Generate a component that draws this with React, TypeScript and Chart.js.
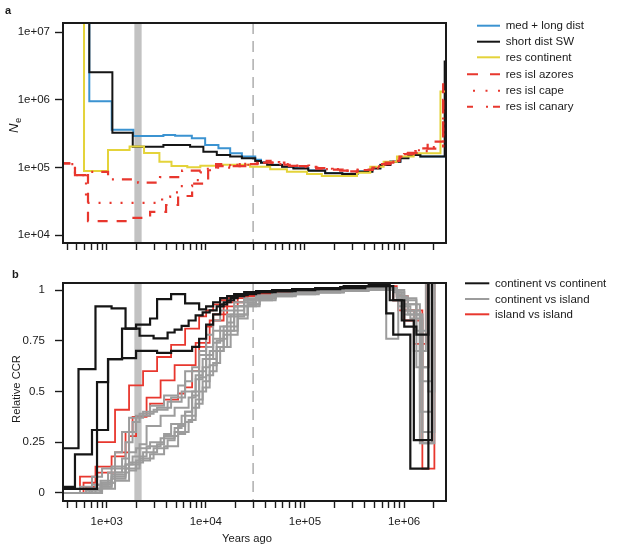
import { useEffect, useRef } from 'react';
import { Chart, registerables } from 'chart.js';

Chart.register(...registerables);

const FONT = '"Liberation Sans", Arial, Helvetica, sans-serif';
const INK = '#1a1a1a';
const BLUE = '#3b93d1';
const YELLOW = '#e4d33a';
const RED = '#e8372e';
const GREY_LINE = '#9c9c9c';
const BLACK = '#151515';

Chart.defaults.font.family = FONT;

// shared x axis: years ago (log)
const yearsMin = 362;
const yearsMax = 2.65e6;
const yearTicks = [
  400, 500, 600, 700, 800, 900, 1000, 2000, 3000, 4000, 5000, 6000, 7000, 8000, 9000,
  10000, 20000, 30000, 40000, 50000, 60000, 70000, 80000, 90000, 100000, 200000, 300000,
  400000, 500000, 600000, 700000, 800000, 900000, 1000000, 2000000,
];
const yearLabelAt = [1e3, 1e4, 1e5, 1e6];
const yearLabels = ['1e+03', '1e+04', '1e+05', '1e+06'];
const bandFrom = 1900;
const bandTo = 2250;
const dashedYear = 30000;

// panel a: effective population size
const neMin = 7690;
const neMax = 1.36e7;
const neTicks = [1e4, 1e5, 1e6, 1e7];
const neLabels = ['1e+04', '1e+05', '1e+06', '1e+07'];

const medLongTimes = [600, 667, 1123, 1857, 3730, 4900, 7220, 9840, 13400, 17600, 23100, 31500, 36000, 41600, 58800, 76500, 108000, 160000, 238000, 338000, 479000, 577000, 727000, 918000, 1106000, 1460000, 2620000, 3000000];
const medLongNe = [3e7, 9.5e5, 3.6e5, 2.93e5, 3.03e5, 2.95e5, 2.7e5, 2.15e5, 1.92e5, 1.62e5, 1.45e5, 1.3e5, 1.2e5, 1.1e5, 1.04e5, 9.8e4, 9.1e4, 8.3e4, 8.1e4, 8.8e4, 9.8e4, 1.1e5, 1.23e5, 1.38e5, 1.54e5, 1.46e5, 3.5e6, 3.5e6];

const shortSwTimes = [600, 667, 1140, 1830, 3730, 6940, 9440, 12900, 17600, 23100, 31500, 36000, 41600, 58800, 76500, 108000, 160000, 238000, 338000, 479000, 577000, 727000, 918000, 1106000, 1460000, 2570000, 3000000];
const shortSwNe = [3e7, 2.56e6, 3.27e5, 2.03e5, 2.15e5, 2.03e5, 1.71e5, 1.53e5, 1.45e5, 1.37e5, 1.25e5, 1.18e5, 1.09e5, 1.03e5, 9.7e4, 9.0e4, 8.2e4, 8.0e4, 8.7e4, 9.7e4, 1.09e5, 1.22e5, 1.37e5, 1.53e5, 1.45e5, 3.67e6, 3.67e6];

const resContTimes = [560, 590, 1030, 1700, 2380, 3400, 4500, 6500, 8800, 12900, 28000, 44600, 65800, 105000, 148000, 335000, 456000, 622000, 848000, 1250000, 2330000, 3000000];
const resContNe = [3e7, 8.87e4, 1.81e5, 2.05e5, 1.64e5, 1.22e5, 1.05e5, 1.01e5, 1.06e5, 1.1e5, 1.03e5, 9.4e4, 8.67e4, 8.0e4, 7.48e4, 8.4e4, 1.03e5, 1.22e5, 1.45e5, 1.62e5, 1.32e6, 1.32e6];

const azoresTimes = [340, 478, 647, 1800, 2740, 3970, 5250, 7270, 10550, 12700, 22000, 33000, 45000, 62000, 85000, 120000, 170000, 240000, 340000, 480000, 600000, 730000, 900000, 1100000, 1460000, 1730000, 2480000, 3000000];
const azoresNe = [1.15e5, 7.7e4, 1.62e4, 1.81e4, 2.22e4, 2.8e4, 3.8e4, 5.8e4, 9.0e4, 1.05e5, 1.12e5, 1.25e5, 1.18e5, 1.1e5, 1.05e5, 9.8e4, 9.3e4, 8.8e4, 9.3e4, 1.0e5, 1.12e5, 1.25e5, 1.45e5, 1.65e5, 1.92e5, 2.41e5, 1.76e6, 1.76e6];

const capeTimes = [340, 478, 618, 3620, 4360, 5500, 7270, 8750, 11000, 20000, 30000, 40000, 55000, 80000, 110000, 160000, 230000, 330000, 470000, 580000, 720000, 880000, 1050000, 1300000, 1900000, 2480000, 3000000];
const capeNe = [1.12e5, 7.7e4, 3.0e4, 3.7e4, 4.3e4, 5.3e4, 6.5e4, 8.5e4, 1.0e5, 1.1e5, 1.15e5, 1.2e5, 1.12e5, 1.07e5, 1.0e5, 9.5e4, 9.0e4, 9.2e4, 9.8e4, 1.1e5, 1.22e5, 1.4e5, 1.6e5, 1.75e5, 2.0e5, 1.2e6, 1.2e6];

const canaryTimes = [340, 478, 618, 1031, 2070, 3450, 5760, 9390, 12700, 17600, 25000, 35000, 48000, 66000, 92000, 130000, 190000, 270000, 380000, 520000, 650000, 800000, 1000000, 1250000, 1600000, 2480000, 3000000];
const canaryNe = [1.15e5, 7.7e4, 8.6e4, 6.7e4, 6.0e4, 7.2e4, 9.0e4, 9.6e4, 1.12e5, 1.05e5, 1.13e5, 1.18e5, 1.12e5, 1.06e5, 1.02e5, 9.6e4, 9.0e4, 8.6e4, 9.2e4, 1.04e5, 1.18e5, 1.35e5, 1.58e5, 1.8e5, 1.9e5, 1.0e6, 1.0e6];

// panel b: relative cross-coalescence rate, two time grids
const ccrMin = -0.04;
const ccrMax = 1.035;
const ccrTicks = [0, 0.25, 0.5, 0.75, 1];
const ccrLabels = ['0', '0.25', '0.5', '0.75', '1'];

const gridA = [212, 478, 537, 618, 710, 798, 897, 1031, 1213, 1427, 1680, 1977, 2326, 2737, 3222, 3791, 4462, 5251, 6180, 7272, 8558, 10070, 11850, 13940, 16410, 19310, 24370, 32140, 46640, 74250, 126800, 226700, 405600, 661000, 778000, 874000, 1005000, 1157000, 1331000, 1530000, 1760000, 2023000, 3710000];
const gridB = [230, 519, 583, 671, 770, 866, 973, 1119, 1316, 1548, 1823, 2145, 2524, 2970, 3496, 4113, 4841, 5697, 6705, 7890, 9285, 10930, 12860, 15120, 17800, 20950, 26440, 34870, 50600, 80560, 137600, 246000, 440100, 717200, 844100, 948300, 1090000, 1255000, 1444000, 1660000, 1910000, 2195000, 4030000];

const contCont1 = [0.22, 0.61, 0.61, 0.61, 0.92, 0.92, 0.92, 0.91, 0.91, 0.81, 0.81, 0.775, 0.775, 0.762, 0.762, 0.791, 0.805, 0.824, 0.85, 0.875, 0.89, 0.9, 0.92, 0.94, 0.96, 0.975, 0.985, 0.99, 0.995, 1.005, 1.01, 1.02, 1.025, 0.95, 0.95, 0.85, 0.85, 0.26, 0.26, 0.26, 1.2, 1.2, 1.2];
const contCont2 = [0.03, 0.19, 0.19, 0.19, 0.31, 0.31, 0.31, 0.66, 0.66, 0.81, 0.81, 0.83, 0.83, 0.86, 0.955, 0.955, 0.98, 0.98, 0.935, 0.935, 0.905, 0.92, 0.94, 0.96, 0.97, 0.98, 0.99, 0.995, 1.0, 1.005, 1.01, 1.015, 1.02, 0.885, 0.78, 0.78, 0.78, 0.12, 0.12, 0.12, 1.2, 1.2, 1.2];
const contCont3 = [0.02, 0.02, 0.02, 0.02, 0.02, 0.546, 0.546, 0.66, 0.66, 0.665, 0.665, 0.7, 0.7, 0.7, 0.69, 0.69, 0.7, 0.7, 0.7, 0.72, 0.76, 0.83, 0.88, 0.93, 0.95, 0.97, 0.98, 0.99, 0.995, 1.0, 1.005, 1.01, 1.02, 1.02, 0.95, 0.95, 0.82, 0.82, 0.78, 0.78, 1.2, 1.2, 1.2];

const contIsl1 = [0, 0, 0.03, 0.03, 0.08, 0.08, 0.12, 0.12, 0.2, 0.3, 0.37, 0.37, 0.4, 0.4, 0.42, 0.42, 0.47, 0.47, 0.55, 0.62, 0.7, 0.78, 0.85, 0.9, 0.9, 0.94, 0.96, 0.975, 0.985, 0.99, 1.0, 1.005, 1.01, 0.76, 0.76, 0.95, 0.95, 0.95, 0.62, 0.62, 1.2, 1.2, 1.2];
const contIsl2 = [0, 0, 0, 0.02, 0.02, 0.06, 0.06, 0.13, 0.13, 0.25, 0.35, 0.39, 0.39, 0.41, 0.41, 0.45, 0.45, 0.5, 0.5, 0.58, 0.66, 0.66, 0.75, 0.82, 0.88, 0.92, 0.95, 0.97, 0.98, 0.99, 0.995, 1.0, 1.005, 1.01, 0.97, 0.97, 0.88, 0.88, 0.4, 0.4, 1.2, 1.2, 1.2];
const contIsl3 = [0, 0, 0, 0, 0.04, 0.04, 0.04, 0.1, 0.1, 0.17, 0.3, 0.38, 0.38, 0.43, 0.43, 0.48, 0.48, 0.53, 0.6, 0.6, 0.68, 0.72, 0.8, 0.8, 0.87, 0.92, 0.95, 0.965, 0.98, 0.99, 0.995, 1.0, 1.01, 1.015, 1.0, 0.92, 0.92, 0.86, 0.86, 0.245, 0.245, 1.2, 1.2];
const contIsl4 = [0, 0, 0, 0, 0, 0.03, 0.03, 0.07, 0.07, 0.14, 0.14, 0.24, 0.33, 0.33, 0.38, 0.38, 0.42, 0.42, 0.47, 0.56, 0.62, 0.7, 0.7, 0.8, 0.8, 0.88, 0.93, 0.96, 0.975, 0.985, 0.99, 1.0, 1.005, 1.01, 0.96, 0.96, 0.9, 0.7, 0.7, 1.2, 1.2, 1.2, 1.2];
const contIsl5 = [0, 0, 0, 0, 0.02, 0.02, 0.05, 0.05, 0.1, 0.1, 0.15, 0.15, 0.2, 0.2, 0.24, 0.28, 0.28, 0.33, 0.4, 0.48, 0.57, 0.66, 0.74, 0.82, 0.88, 0.92, 0.95, 0.965, 0.975, 0.985, 0.99, 1.0, 1.005, 1.01, 1.0, 1.0, 0.93, 0.93, 0.88, 0.3, 0.3, 1.2, 1.2];
const contIsl6 = [0, 0, 0, 0, 0, 0.03, 0.03, 0.08, 0.08, 0.12, 0.12, 0.17, 0.17, 0.22, 0.22, 0.26, 0.3, 0.3, 0.36, 0.44, 0.52, 0.6, 0.7, 0.78, 0.78, 0.86, 0.92, 0.95, 0.97, 0.98, 0.99, 0.995, 1.0, 1.005, 0.98, 0.9, 0.9, 0.9, 0.55, 0.55, 1.2, 1.2, 1.2];
const contIsl7 = [0, 0, 0, 0, 0, 0, 0.02, 0.02, 0.06, 0.06, 0.11, 0.16, 0.16, 0.19, 0.19, 0.23, 0.23, 0.29, 0.35, 0.42, 0.5, 0.58, 0.64, 0.72, 0.8, 0.87, 0.92, 0.95, 0.97, 0.98, 0.99, 0.995, 1.0, 1.0, 0.99, 0.99, 0.96, 0.96, 0.8, 0.8, 0.5, 1.2, 1.2];
const contIsl8 = [0, 0, 0, 0, 0.04, 0.04, 0.04, 0.09, 0.09, 0.14, 0.18, 0.18, 0.23, 0.23, 0.27, 0.27, 0.32, 0.38, 0.38, 0.46, 0.55, 0.63, 0.72, 0.72, 0.82, 0.88, 0.93, 0.96, 0.975, 0.985, 0.99, 1.0, 1.0, 1.005, 0.99, 0.93, 0.93, 0.93, 0.245, 0.245, 1.2, 1.2, 1.2];
const contIsl9 = [0, 0, 0, 0.01, 0.01, 0.01, 0.05, 0.05, 0.12, 0.12, 0.2, 0.22, 0.22, 0.25, 0.25, 0.29, 0.34, 0.34, 0.4, 0.5, 0.6, 0.68, 0.76, 0.76, 0.84, 0.9, 0.94, 0.96, 0.975, 0.985, 0.99, 0.995, 1.0, 1.0, 1.0, 0.95, 0.88, 0.88, 0.88, 0.62, 1.2, 1.2, 1.2];

const islIsl1 = [0, 0, 0.08, 0.08, 0.08, 0.25, 0.25, 0.25, 0.41, 0.41, 0.53, 0.53, 0.6, 0.6, 0.67, 0.67, 0.73, 0.73, 0.81, 0.81, 0.87, 0.9, 0.93, 0.95, 0.96, 0.97, 0.98, 0.985, 0.99, 0.995, 1.0, 1.01, 1.02, 1.02, 1.0, 0.9, 0.9, 0.9, 0.9, 0.12, 0.12, 1.2, 1.2];
const islIsl2 = [0, 0, 0.05, 0.05, 0.13, 0.13, 0.13, 0.18, 0.18, 0.3, 0.375, 0.375, 0.47, 0.47, 0.555, 0.555, 0.63, 0.63, 0.63, 0.74, 0.74, 0.85, 0.85, 0.92, 0.92, 0.96, 0.975, 0.985, 0.99, 0.995, 1.0, 1.01, 1.015, 1.02, 0.97, 0.97, 0.9, 0.735, 0.735, 1.2, 1.2, 1.2, 1.2];
const islIsl3 = [0, 0, 0, 0.03, 0.03, 0.1, 0.1, 0.1, 0.2, 0.2, 0.28, 0.38, 0.38, 0.44, 0.44, 0.46, 0.46, 0.49, 0.52, 0.6, 0.72, 0.82, 0.88, 0.88, 0.94, 0.94, 0.97, 0.98, 0.985, 0.99, 1.0, 1.005, 1.01, 1.01, 0.95, 0.95, 0.85, 0.85, 0.85, 0.62, 1.2, 1.2, 1.2];

const steps = (times: number[], values: number[]) => times.map((x, i) => ({ x, y: values[i] }));

// each value holds from its own time up to the next time
const stepLine = (label: string, times: number[], values: number[], color: string, width: number, dash: number[] = []) => ({
  label,
  data: steps(times, values),
  borderColor: color,
  borderWidth: width,
  borderDash: dash,
  stepped: 'before',
  pointRadius: 0,
  fill: false,
  tension: 0,
});

type LegendRow = { label: string; color: string; dash: number[]; from: number; to: number; y: number };

function drawLegend(ctx: CanvasRenderingContext2D, rows: LegendRow[], textX: number) {
  ctx.save();
  rows.forEach((r) => {
    ctx.strokeStyle = r.color;
    ctx.lineWidth = 2;
    ctx.setLineDash(r.dash);
    ctx.beginPath();
    ctx.moveTo(r.from, r.y);
    ctx.lineTo(r.to, r.y);
    ctx.stroke();
    ctx.setLineDash([]);
    ctx.fillStyle = INK;
    ctx.font = `11.5px ${FONT}`;
    ctx.textAlign = 'left';
    ctx.textBaseline = 'middle';
    ctx.fillText(r.label, textX, r.y + 0.5);
  });
  ctx.restore();
}

function decorPlugin(afterDrawExtra: (ctx: CanvasRenderingContext2D) => void) {
  return {
    id: 'panelDecor',
    beforeDatasetsDraw(chart: any) {
      const { ctx, chartArea: a } = chart;
      const x = chart.scales.x;
      ctx.save();
      ctx.beginPath();
      ctx.rect(a.left, a.top, a.right - a.left, a.bottom - a.top);
      ctx.clip();
      const b0 = x.getPixelForValue(bandFrom);
      const b1 = x.getPixelForValue(bandTo);
      ctx.fillStyle = '#c2c2c2';
      ctx.fillRect(b0, a.top, b1 - b0, a.bottom - a.top);
      const d = x.getPixelForValue(dashedYear);
      ctx.strokeStyle = '#b3b3b3';
      ctx.lineWidth = 1.6;
      ctx.setLineDash([11, 7]);
      ctx.beginPath();
      ctx.moveTo(d, a.top);
      ctx.lineTo(d, a.bottom);
      ctx.stroke();
      ctx.restore();
    },
    afterDraw(chart: any) {
      const { ctx, chartArea: a } = chart;
      ctx.save();
      ctx.strokeStyle = INK;
      ctx.lineWidth = 2;
      ctx.strokeRect(a.left, a.top, a.right - a.left, a.bottom - a.top);
      ctx.restore();
      afterDrawExtra(ctx);
    },
  };
}

const tickFont = { size: 11.5, family: FONT };
const tickGrid = (len: number) => ({
  display: true,
  drawOnChartArea: false,
  drawTicks: true,
  tickLength: len,
  tickColor: INK,
  tickWidth: 1.4,
});

const yearAxis = (height: number, labelled: boolean) => ({
  type: 'logarithmic',
  min: yearsMin,
  max: yearsMax,
  bounds: 'data',
  afterBuildTicks: (s: any) => {
    s.ticks = yearTicks.map((value) => ({ value }));
  },
  afterFit: (s: any) => {
    s.height = height;
  },
  grid: tickGrid(7),
  border: { display: false },
  ticks: {
    autoSkip: false,
    maxRotation: 0,
    minRotation: 0,
    padding: 7,
    color: INK,
    font: tickFont,
    callback: (v: any) => {
      if (!labelled) return '';
      const i = yearLabelAt.indexOf(Number(v));
      return i >= 0 ? yearLabels[i] : '';
    },
  },
});

const baseOptions = (top: number) => ({
  animation: false,
  responsive: true,
  maintainAspectRatio: false,
  events: [],
  layout: { padding: { top, right: 171, bottom: 0, left: 0 } },
  plugins: { legend: { display: false }, tooltip: { enabled: false } },
});

const neLegend: LegendRow[] = [
  { label: 'med + long dist', color: BLUE, dash: [], from: 477, to: 500, y: 25.7 },
  { label: 'short dist SW', color: BLACK, dash: [], from: 477, to: 500, y: 41.7 },
  { label: 'res continent', color: YELLOW, dash: [], from: 477, to: 500, y: 57.3 },
  { label: 'res isl azores', color: RED, dash: [11, 12], from: 467, to: 500, y: 74.3 },
  { label: 'res isl cape', color: RED, dash: [2, 10.5], from: 473, to: 500, y: 90.7 },
  { label: 'res isl canary', color: RED, dash: [6, 13, 2, 5, 7, 100], from: 467, to: 500, y: 106.7 },
];

function buildNeChart() {
  return {
    type: 'line',
    data: {
      datasets: [
        stepLine('res isl canary', canaryTimes, canaryNe, RED, 2.2, [10, 8, 2, 8]),
        stepLine('res isl cape', capeTimes, capeNe, RED, 2.2, [2, 9]),
        stepLine('res isl azores', azoresTimes, azoresNe, RED, 2.2, [10, 9]),
        stepLine('res continent', resContTimes, resContNe, YELLOW, 2),
        stepLine('short dist SW', shortSwTimes, shortSwNe, BLACK, 2),
        stepLine('med + long dist', medLongTimes, medLongNe, BLUE, 2),
      ],
    },
    options: {
      ...baseOptions(23),
      scales: {
        x: yearAxis(19, false),
        y: {
          type: 'logarithmic',
          min: neMin,
          max: neMax,
          bounds: 'data',
          afterBuildTicks: (s: any) => {
            s.ticks = neTicks.map((value) => ({ value }));
          },
          afterFit: (s: any) => {
            s.width = 63;
          },
          grid: tickGrid(8),
          border: { display: false },
          ticks: {
            autoSkip: false,
            padding: 5,
            color: INK,
            font: tickFont,
            callback: (v: any) => {
              const i = neTicks.indexOf(Number(v));
              return i >= 0 ? neLabels[i] : '';
            },
          },
        },
      },
    },
    plugins: [
      decorPlugin((ctx) => {
        drawLegend(ctx, neLegend, 505.7);
        ctx.save();
        ctx.fillStyle = INK;
        ctx.font = `bold 11px ${FONT}`;
        ctx.textBaseline = 'alphabetic';
        ctx.fillText('a', 5, 14);
        ctx.translate(17.5, 133);
        ctx.rotate(-Math.PI / 2);
        ctx.font = `italic 13px ${FONT}`;
        ctx.fillText('N', 0, 0);
        const w = ctx.measureText('N').width;
        ctx.font = `9.5px ${FONT}`;
        ctx.fillText('e', w + 0.5, 3);
        ctx.restore();
      }),
    ],
  };
}

const ccrLegend: LegendRow[] = [
  { label: 'continent vs continent', color: BLACK, dash: [], from: 465, to: 489.3, y: 21.3 },
  { label: 'continent vs island', color: GREY_LINE, dash: [], from: 465, to: 489.3, y: 37 },
  { label: 'island vs island', color: RED, dash: [], from: 465, to: 489.3, y: 52.3 },
];

function buildCcrChart() {
  return {
    type: 'line',
    data: {
      datasets: [
        stepLine('continent vs continent', gridB, contCont1, BLACK, 2.2),
        stepLine('continent vs continent', gridA, contCont2, BLACK, 2.2),
        stepLine('continent vs continent', gridA, contCont3, BLACK, 2.2),
        stepLine('continent vs island', gridA, contIsl1, GREY_LINE, 2),
        stepLine('continent vs island', gridB, contIsl2, GREY_LINE, 2),
        stepLine('continent vs island', gridA, contIsl3, GREY_LINE, 2),
        stepLine('continent vs island', gridB, contIsl4, GREY_LINE, 2),
        stepLine('continent vs island', gridA, contIsl5, GREY_LINE, 2),
        stepLine('continent vs island', gridB, contIsl6, GREY_LINE, 2),
        stepLine('continent vs island', gridA, contIsl7, GREY_LINE, 2),
        stepLine('continent vs island', gridB, contIsl8, GREY_LINE, 2),
        stepLine('continent vs island', gridA, contIsl9, GREY_LINE, 2),
        stepLine('island vs island', gridA, islIsl1, RED, 1.8),
        stepLine('island vs island', gridB, islIsl2, RED, 1.8),
        stepLine('island vs island', gridA, islIsl3, RED, 1.8),
      ],
    },
    options: {
      ...baseOptions(21),
      scales: {
        x: yearAxis(51, true),
        y: {
          type: 'linear',
          min: ccrMin,
          max: ccrMax,
          afterBuildTicks: (s: any) => {
            s.ticks = ccrTicks.map((value) => ({ value }));
          },
          afterFit: (s: any) => {
            s.width = 63;
          },
          grid: tickGrid(8),
          border: { display: false },
          ticks: {
            autoSkip: false,
            padding: 10,
            color: INK,
            font: tickFont,
            callback: (v: any) => {
              const i = ccrTicks.indexOf(Number(v));
              return i >= 0 ? ccrLabels[i] : '';
            },
          },
        },
      },
    },
    plugins: [
      decorPlugin((ctx) => {
        drawLegend(ctx, ccrLegend, 495);
        ctx.save();
        ctx.fillStyle = INK;
        ctx.font = `bold 11px ${FONT}`;
        ctx.textBaseline = 'alphabetic';
        ctx.fillText('b', 12, 16.3);
        ctx.font = `11.2px ${FONT}`;
        ctx.textAlign = 'center';
        ctx.textBaseline = 'middle';
        ctx.fillText('Years ago', 247, 277.3);
        ctx.translate(17, 127);
        ctx.rotate(-Math.PI / 2);
        ctx.fillText('Relative CCR', 0, 0);
        ctx.restore();
      }),
    ],
  };
}

function ChartPanel({ height, build }: { height: number; build: () => any }) {
  const canvasRef = useRef<HTMLCanvasElement | null>(null);

  useEffect(() => {
    if (!canvasRef.current) return;
    const chart = new Chart(canvasRef.current, build());
    return () => {
      chart.destroy();
    };
  }, [build]);

  return (
    <div style={{ position: 'relative', width: 617, height }}>
      <canvas ref={canvasRef} />
    </div>
  );
}

export default function App() {
  return (
    <div style={{ position: 'absolute', left: 0, top: 0, width: 617, height: 552, background: '#fff' }}>
      <ChartPanel height={262} build={buildNeChart} />
      <ChartPanel height={290} build={buildCcrChart} />
    </div>
  );
}
